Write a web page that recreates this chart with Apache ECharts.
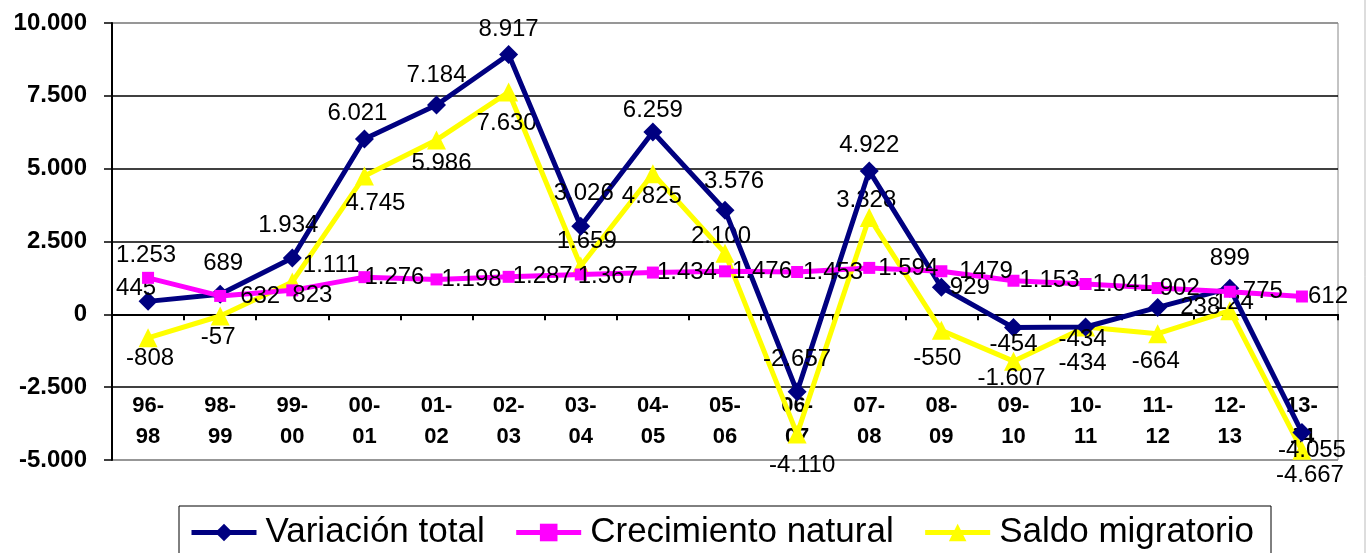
<!DOCTYPE html>
<html><head><meta charset="utf-8">
<script src="https://cdn.jsdelivr.net/npm/echarts@6/dist/echarts.min.js"></script>
<style>html,body{margin:0;padding:0;background:#fff}#c{width:1367px;height:553px}</style>
</head><body><div id="c"></div>
<script>
// ---- data ----
const categories = ['96-\n98','98-\n99','99-\n00','00-\n01','01-\n02','02-\n03','03-\n04','04-\n05','05-\n06','06-\n07','07-\n08','08-\n09','09-\n10','10-\n11','11-\n12','12-\n13','13-\n14'];
const variacionTotal     = [445, 689, 1934, 6021, 7184, 8917, 3026, 6259, 3576, -2657, 4922, 929, -454, -434, 238, 899, -4055];
const crecimientoNatural = [1253, 632, 823, 1276, 1198, 1287, 1367, 1434, 1476, 1453, 1594, 1479, 1153, 1041, 902, 775, 612];
const saldoMigratorio    = [-808, -57, 1111, 4745, 5986, 7630, 1659, 4825, 2100, -4110, 3328, -550, -1607, -434, -664, 124, -4667];
const seriesNames = ['Variación total', 'Crecimiento natural', 'Saldo migratorio'];

// ---- label layout (style only) ----
const layoutVar = [['top',-12,13],['top',3,-5],['top',-4,-7],['top',-7,0],['top',0,-4],['top',0,0],['top',3,-7],['top',0,4],['top',9,-3],['top',0,-7],['top',0,0],['right',-5,0],['bottom',0,-9],['bottom',-3,-13],['right',9,0],['top',0,-4],['bottom',10,-8]];
const layoutNat = [['top',-2,0],['right',10,0],['right',-10,5],['right',-10,0],['right',-5,0],['right',-6,0],['right',-13,2],['right',-6,0],['right',-3,0],['right',-4,0],['right',-1,0],['right',8,0],['right',-4,0],['right',-3,0],['right',-8,0],['right',3,0],['right',-4,0]];
const layoutSal = [['bottom',2,-5],['bottom',-2,-4],['right',-3,-17],['bottom',11,2],['bottom',5,-2],['bottom',-2,6],['top',6,1],['bottom',-1,-3],['top',-4,9],['bottom',5,6],['top',-3,8],['bottom',-4,3],['bottom',-2,-8],['bottom',-3,11],['bottom',-2,2],['top',4,17],['bottom',8,0]];
const noSepIdxNat = [11]; // label shown without thousands separator in the source

function fmt(v, noSep) {
  const a = Math.abs(v).toString();
  const s = noSep ? a : a.replace(/\B(?=(\d{3})+(?!\d))/g, '.');
  return (v < 0 ? '-' : '') + s;
}
const FONT = 'Arial, "Liberation Sans", sans-serif';
function buildData(values, layout, noSepIdx) {
  return values.map((v, i) => ({
    value: v,
    label: {
      position: layout[i][0],
      offset: [layout[i][1], layout[i][2]],
      formatter: fmt(v, noSepIdx && noSepIdx.indexOf(i) >= 0)
    }
  }));
}
const labelStyle = { show: true, color: '#000', fontSize: 24, fontFamily: FONT, distance: 4 };

const chart = echarts.init(document.getElementById('c'), null, { renderer: 'canvas' });
chart.setOption({
  animation: false,
  backgroundColor: '#fff',
  grid: { left: 112, right: 29, top: 23, bottom: 93, containLabel: false, outerBoundsMode: 'none',
          show: true, borderColor: '#888', borderWidth: 1, backgroundColor: 'transparent' },
  legend: {
    left: 179, top: 506,
    data: seriesNames,
    borderColor: '#000', borderWidth: 1,
    padding: [9, 17, 14, 10],
    itemGap: 29, itemWidth: 65, itemHeight: 22,
    lineStyle: { width: 5 },
    textStyle: { fontSize: 35, color: '#000', fontFamily: FONT, padding: [0, 0, 0, 4] }
  },
  xAxis: {
    type: 'category',
    data: categories,
    boundaryGap: true,
    axisLine: { onZero: true, lineStyle: { color: '#000', width: 2 } },
    axisTick: { show: true, length: 6, lineStyle: { color: '#000', width: 2 } },
    axisLabel: { margin: -70, fontSize: 22, fontWeight: 'bold', color: '#000', lineHeight: 31, fontFamily: FONT, interval: 0 },
    splitLine: { show: false }
  },
  yAxis: {
    type: 'value',
    min: -5000, max: 10000, interval: 2500,
    axisLine: { show: true, lineStyle: { color: '#000', width: 2 } },
    axisTick: { show: true, length: 8, lineStyle: { color: '#000', width: 1.5 } },
    axisLabel: { formatter: v => fmt(v), fontSize: 24, fontWeight: 'bold', color: '#000', margin: 25, fontFamily: FONT },
    splitLine: { show: true, lineStyle: { color: ['#888', '#000', '#000', '#000', '#000', '#000', '#888'], width: 1.5 } }
  },
  graphic: [{ type: 'line', shape: { x1: 1365, y1: 0, x2: 1365, y2: 553 }, style: { stroke: '#bbb', lineWidth: 1 } }],
  series: [
    {
      name: seriesNames[2], type: 'line', z: 2,
      data: buildData(saldoMigratorio, layoutSal),
      symbol: 'triangle', symbolSize: 19,
      lineStyle: { color: '#FFFF00', width: 5 },
      itemStyle: { color: '#FFFF00' },
      label: labelStyle
    },
    {
      name: seriesNames[0], type: 'line', z: 3,
      data: buildData(variacionTotal, layoutVar),
      symbol: 'diamond', symbolSize: 19,
      lineStyle: { color: '#000080', width: 5 },
      itemStyle: { color: '#000080' },
      label: labelStyle
    },
    {
      name: seriesNames[1], type: 'line', z: 4,
      data: buildData(crecimientoNatural, layoutNat, noSepIdxNat),
      symbol: 'rect', symbolSize: 12,
      lineStyle: { color: '#FF00FF', width: 5 },
      itemStyle: { color: '#FF00FF' },
      label: labelStyle
    }
  ]
});
</script>
</body></html>
